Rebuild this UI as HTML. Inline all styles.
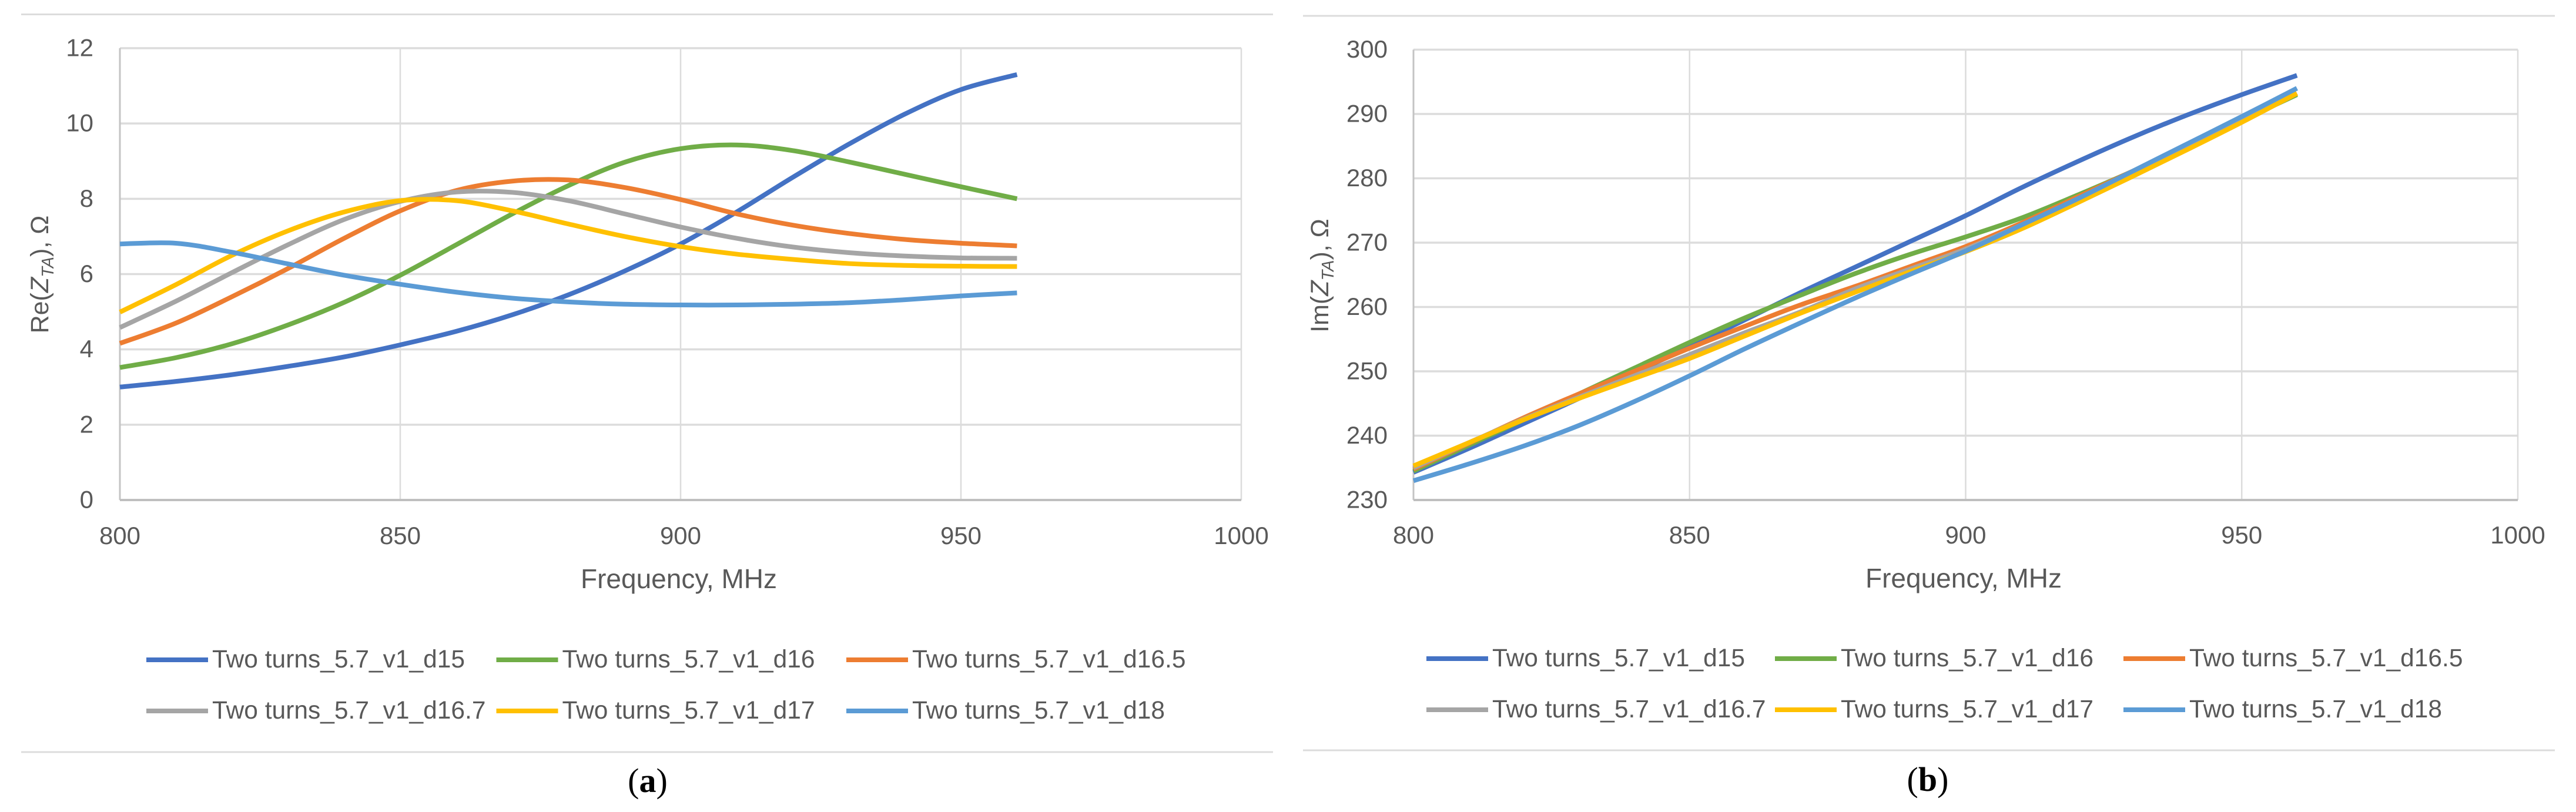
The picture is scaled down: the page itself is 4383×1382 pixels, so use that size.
<!DOCTYPE html>
<html lang="en">
<head>
<meta charset="utf-8">
<title>Re and Im of Z_TA versus frequency</title>
<style>
html,body{margin:0;padding:0;background:#fff;width:4383px;height:1382px;overflow:hidden}
svg{display:block}
text{font-family:"Liberation Sans",sans-serif;fill:#595959}
.cap{font-family:"Liberation Serif",serif;fill:#000}
</style>
</head>
<body>
<svg id="figure" xmlns="http://www.w3.org/2000/svg" width="4383" height="1382" viewBox="0 0 4383 1382">
  <rect x="0" y="0" width="4383" height="1382" fill="#fff"/>
  <line x1="36" x2="2166" y1="24.5" y2="24.5" stroke="#dcdcdc" stroke-width="3"/>
  <line x1="36" x2="2166" y1="1280" y2="1280" stroke="#dcdcdc" stroke-width="3"/>
  <line x1="2217" x2="4347" y1="27" y2="27" stroke="#dcdcdc" stroke-width="3"/>
  <line x1="2217" x2="4347" y1="1277" y2="1277" stroke="#dcdcdc" stroke-width="3"/>
  <g id="chart-a"></g>
  <g id="chart-b"></g>
  <text x="1155" y="1001" font-size="46" text-anchor="middle">Frequency, MHz</text>
  <text x="3341" y="1000" font-size="46" text-anchor="middle">Frequency, MHz</text>
  <text transform="translate(82,467) rotate(-90)" font-size="43" text-anchor="middle">Re(<tspan font-style="italic">Z</tspan><tspan font-style="italic" font-size="29" dy="9">TA</tspan><tspan dy="-9">), Ω</tspan></text>
  <text transform="translate(2260,469) rotate(-90)" font-size="43" text-anchor="middle">Im(<tspan font-style="italic">Z</tspan><tspan font-style="italic" font-size="29" dy="9">TA</tspan><tspan dy="-9">), Ω</tspan></text>
  <text class="cap" x="1102" y="1348" font-size="58" text-anchor="middle">(<tspan font-weight="bold" class="cap">a</tspan>)</text>
  <text class="cap" x="3280" y="1346" font-size="58" text-anchor="middle">(<tspan font-weight="bold" class="cap">b</tspan>)</text>
</svg>
<script>
// ---- data ----
const frequencies = [800,810,820,830,840,850,860,870,880,890,900,910,920,930,940,950,960];
const xTicks = [800,850,900,950,1000];
const reTicks = [0,2,4,6,8,10,12];
const imTicks = [230,240,250,260,270,280,290,300];
const seriesNames = ["Two turns_5.7_v1_d15","Two turns_5.7_v1_d16","Two turns_5.7_v1_d16.5","Two turns_5.7_v1_d16.7","Two turns_5.7_v1_d17","Two turns_5.7_v1_d18"];
const seriesColors = ["#4472c4","#70ad47","#ed7d31","#a5a5a5","#ffc000","#5b9bd5"];

const reD15   = [3.0,3.15,3.33,3.55,3.8,4.12,4.48,4.92,5.45,6.08,6.8,7.65,8.57,9.45,10.25,10.9,11.3];
const reD16   = [3.52,3.78,4.15,4.65,5.25,5.97,6.78,7.6,8.35,8.97,9.33,9.43,9.28,8.98,8.65,8.32,8.0];
const reD165  = [4.16,4.7,5.4,6.15,6.95,7.68,8.22,8.47,8.5,8.3,7.98,7.6,7.3,7.08,6.92,6.82,6.75];
const reD167  = [4.58,5.28,6.04,6.78,7.45,7.93,8.18,8.17,7.95,7.6,7.25,6.95,6.72,6.57,6.48,6.43,6.42];
const reD17   = [4.99,5.72,6.5,7.15,7.65,7.95,7.95,7.68,7.33,7.0,6.73,6.53,6.39,6.28,6.23,6.21,6.2];
const reD18   = [6.8,6.82,6.58,6.27,5.97,5.73,5.52,5.36,5.26,5.2,5.18,5.18,5.2,5.24,5.32,5.42,5.5];

const imD15   = [234.3,238.0,241.9,245.8,249.8,253.8,258.0,262.2,266.2,270.2,274.2,278.5,282.5,286.3,289.8,293.0,296.0];
const imD16   = [234.5,238.5,242.5,246.5,250.5,254.5,258.3,261.8,265.2,268.2,270.9,273.8,277.3,281.0,285.0,289.0,293.0];
const imD165  = [234.8,238.8,242.8,246.5,250.0,253.6,257.0,260.3,263.2,266.3,269.4,273.0,277.0,281.0,285.0,289.0,293.2];
const imD167  = [235.0,238.9,242.6,246.0,249.3,252.6,256.0,259.2,262.8,265.9,269.0,272.7,276.7,280.7,284.8,288.9,293.2];
const imD17   = [235.3,238.9,242.5,245.8,248.9,252.0,255.5,259.0,262.3,265.5,268.6,272.1,276.1,280.2,284.4,288.7,293.2];
const imD18   = [233.0,235.6,238.4,241.6,245.3,249.3,253.5,257.5,261.4,265.1,268.7,272.7,276.7,281.0,285.3,289.6,294.0];

const reSeries = [reD15,reD16,reD165,reD167,reD17,reD18];
const imSeries = [imD15,imD16,imD165,imD167,imD17,imD18];

// ---- drawing ----
const NS = "http://www.w3.org/2000/svg";
function make(tag, parent, attrs, content) {
  const el = document.createElementNS(NS, tag);
  for (const k in attrs) el.setAttribute(k, attrs[k]);
  if (content !== undefined) el.textContent = content;
  parent.appendChild(el);
  return el;
}
function smoothPath(pts) {
  let d = "M" + pts[0][0].toFixed(2) + " " + pts[0][1].toFixed(2);
  for (let i = 0; i < pts.length - 1; i++) {
    const p0 = pts[Math.max(i - 1, 0)], p1 = pts[i], p2 = pts[i + 1], p3 = pts[Math.min(i + 2, pts.length - 1)];
    const c1x = p1[0] + (p2[0] - p0[0]) / 6, c1y = p1[1] + (p2[1] - p0[1]) / 6;
    const c2x = p2[0] - (p3[0] - p1[0]) / 6, c2y = p2[1] - (p3[1] - p1[1]) / 6;
    d += "C" + c1x.toFixed(2) + " " + c1y.toFixed(2) + " " + c2x.toFixed(2) + " " + c2y.toFixed(2) + " " + p2[0].toFixed(2) + " " + p2[1].toFixed(2);
  }
  return d;
}
function drawChart(root, panel, box, yTicks, series) {
  const xMin = xTicks[0], xMax = xTicks[xTicks.length - 1];
  const yMin = yTicks[0], yMax = yTicks[yTicks.length - 1];
  const xScale = f => box.left + (f - xMin) / (xMax - xMin) * (box.right - box.left);
  const yScale = v => box.bottom - (v - yMin) / (yMax - yMin) * (box.bottom - box.top);

  yTicks.forEach(t => {
    if (t === yMin) return;
    const g = make("line", root, {x1: box.left, x2: box.right, y1: yScale(t), y2: yScale(t), stroke: "#dcdcdc", "stroke-width": 3.5});
    
    
  });
  xTicks.forEach(t => {
    if (t === xMin) return;
    const g = make("line", root, {x1: xScale(t), x2: xScale(t), y1: box.top, y2: box.bottom, stroke: "#dcdcdc", "stroke-width": 2.5});
    
    
  });
  const yAxis = make("line", root, {x1: box.left, x2: box.left, y1: box.top, y2: box.bottom, stroke: "#c4c4c4", "stroke-width": 3});
  
  
  const xAxis = make("line", root, {x1: box.left, x2: box.right, y1: box.bottom, y2: box.bottom, stroke: "#bfbfbf", "stroke-width": 4});
  
  

  yTicks.forEach(t => {
    const lb = make("text", root, {x: box.yLabelRight, y: yScale(t) + 13.5, "font-size": 42, "text-anchor": "end"}, t);
    
    
  });
  xTicks.forEach(t => {
    const lb = make("text", root, {x: xScale(t), y: box.xLabelY, "font-size": 42, "text-anchor": "middle"}, t);
    
    
  });

  series.forEach((vals, i) => {
    const pts = vals.map((v, j) => [xScale(frequencies[j]), yScale(v)]);
    const line = make("path", root, {d: smoothPath(pts), fill: "none", stroke: seriesColors[i], "stroke-width": 8, "stroke-linejoin": "round"});
    
    
  });

  seriesNames.forEach((name, i) => {
    const col = i % 3, row = Math.floor(i / 3);
    const sx = box.legendX + col * box.legendStep;
    const by = box.legendY + row * box.legendRowStep;
    const entry = make("g", root, {});
    
    
    make("line", entry, {x1: sx, x2: sx + 105, y1: by - 13, y2: by - 13, stroke: seriesColors[i], "stroke-width": 8});
    make("text", entry, {x: sx + 112, y: by, "font-size": 42.5}, name);
  });
}

drawChart(document.getElementById("chart-a"), "a",
  {left: 204, right: 2112, top: 82, bottom: 851, yLabelRight: 159, xLabelY: 926, legendX: 249, legendStep: 595.5, legendY: 1136, legendRowStep: 87},
  reTicks, reSeries);
drawChart(document.getElementById("chart-b"), "b",
  {left: 2405, right: 4284, top: 84.5, bottom: 851, yLabelRight: 2361, xLabelY: 925, legendX: 2427, legendStep: 593, legendY: 1134, legendRowStep: 87},
  imTicks, imSeries);
</script>
</body>
</html>
